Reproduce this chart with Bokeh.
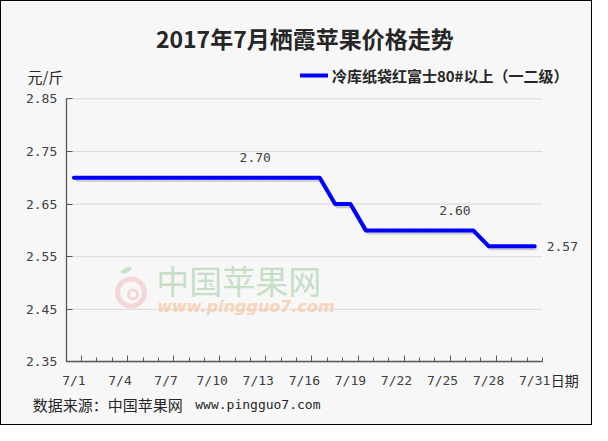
import math
from bokeh.plotting import figure
from bokeh.models import (ColumnDataSource, FixedTicker, Range1d, Label, Legend,
                          LegendItem, PrintfTickFormatter, LinearAxis)
from bokeh.embed import file_html
from bokeh.resources import INLINE
from bokeh.core.properties import value
from bokeh.transform import dodge

# ---------------- data ----------------
title_text = "2017年7月栖霞苹果价格走势"
series_name = "冷库纸袋红富士80#以上（一二级）"
unit_text = "元/斤"
x_axis_name = "日期"
source_text = "数据来源：中国苹果网"
source_url = "www.pingguo7.com"
watermark_name = "中国苹果网"

dates = ["7/1", "7/2", "7/3", "7/4", "7/5", "7/6", "7/7", "7/8", "7/9", "7/10",
         "7/11", "7/12", "7/13", "7/14", "7/15", "7/16", "7/17", "7/18", "7/19", "7/20",
         "7/21", "7/22", "7/23", "7/24", "7/25", "7/26", "7/27", "7/28", "7/29", "7/30",
         "7/31"]
prices = [2.70, 2.70, 2.70, 2.70, 2.70, 2.70, 2.70, 2.70, 2.70, 2.70,
          2.70, 2.70, 2.70, 2.70, 2.70, 2.70, 2.70, 2.65, 2.65, 2.60,
          2.60, 2.60, 2.60, 2.60, 2.60, 2.60, 2.60, 2.57, 2.57, 2.57,
          2.57]
y_ticks = [2.35, 2.45, 2.55, 2.65, 2.75, 2.85]
x_tick_labels = ["7/1", "7/4", "7/7", "7/10", "7/13", "7/16", "7/19", "7/22", "7/25", "7/28", "7/31"]
annot_dates = ["7/13", "7/26", "7/31"]

# ---------------- layout (reference-picture pixels, scaled into the figure) ----------------
W, H = 592, 425
RW, RH = 608, 441
fx, fy = W / RW, H / RH


def sx(X):  # reference x -> screen x from frame left
    return X * fx


def sy(Y):  # reference y -> screen y from frame bottom
    return H - Y * fy


PL, PR, PT, PB = 66.5 * fx, 555.5 * fx, 101.0 * fy, 374.0 * fy   # plot-area box (canvas px)

# ---------------- derived ----------------
day = [int(d.split("/")[1]) for d in dates]
x_lo, x_hi = day[0] - 0.5, day[-1] + 0.5
y_lo, y_hi = y_ticks[0], y_ticks[-1]
ppx = (PR - PL) / (x_hi - x_lo)
ppy = (PB - PT) / (y_hi - y_lo)
x_range = Range1d(x_lo - PL / ppx, x_hi + (W - PR) / ppx)
y_range = Range1d(y_lo - (H - PB) / ppy, y_hi + PT / ppy)


def dx(X):  # reference x -> data x (for decoration only)
    return x_range.start + sx(X) / ppx


def dy(Y):
    return y_range.start + sy(Y) / ppy


src = ColumnDataSource(dict(x=day, y=prices))
grid_src = ColumnDataSource(dict(y=y_ticks, x0=[x_lo] * len(y_ticks), x1=[x_hi] * len(y_ticks)))

ann_x = [day[dates.index(d)] for d in annot_dates]
ann_y = [prices[dates.index(d)] for d in annot_dates]
ann_t = ["%.2f" % v for v in ann_y]
ann_src = ColumnDataSource(dict(x=ann_x, y=ann_y, t=ann_t,
                                xo=[-3, -3, 12], yo=[-20, -20, 0],
                                al=["center", "center", "left"]))

BG = "#f7f7f7"
AX = "#595959"
p = figure(width=W, height=H, output_backend="svg", toolbar_location=None,
           x_range=x_range, y_range=y_range,
           min_border=0, min_border_left=0, min_border_right=0, min_border_top=0, min_border_bottom=0,
           background_fill_color=BG, border_fill_color=BG, outline_line_color=None)
p.styles = {"border": "1px solid #000000"}

# axes (placed at the plot-area edges)
xa = p.xaxis[0]
xa.fixed_location = y_lo
xa.bounds = (x_lo, x_hi)
label_days = [int(t.split("/")[1]) for t in x_tick_labels]
xa.ticker = FixedTicker(ticks=label_days, minor_ticks=[d - 0.5 for d in day] + [x_hi])
xa.major_label_overrides = {d: t for d, t in zip(label_days, x_tick_labels)}
xa.major_tick_in = 0
xa.major_tick_out = 0
xa.minor_tick_in = 4
xa.minor_tick_out = 0
xa.minor_tick_line_color = AX
xa.axis_line_color = AX
xa.axis_line_width = 1.3
xa.major_label_text_font = "DejaVu Sans Mono"
xa.major_label_text_font_size = "13px"
xa.major_label_text_color = "#404040"
xa.major_label_standoff = 11

# longer tick marks every third day boundary
xb = LinearAxis(fixed_location=y_lo, bounds=(x_lo, x_hi),
                ticker=FixedTicker(ticks=[d + 0.5 for d in label_days[:-1]], minor_ticks=[]),
                major_tick_in=6, major_tick_out=0, major_tick_line_color=AX,
                axis_line_color=None, minor_tick_line_color=None,
                major_label_text_alpha=0, major_label_text_font_size="1px")
p.add_layout(xb, "below")

ya = p.yaxis[0]
ya.fixed_location = x_lo
ya.bounds = (y_lo, y_hi)
ya.ticker = FixedTicker(ticks=y_ticks, minor_ticks=[])
ya.formatter = PrintfTickFormatter(format="%.2f")
ya.major_tick_in = 6
ya.major_tick_out = 0
ya.major_tick_line_color = AX
ya.axis_line_color = AX
ya.axis_line_width = 1.3
ya.major_label_text_font = "DejaVu Sans Mono"
ya.major_label_text_font_size = "13px"
ya.major_label_text_color = "#404040"
ya.major_label_standoff = 9

p.xgrid.visible = False
p.ygrid.visible = False
p.segment(x0="x0", x1="x1", y0="y", y1="y", source=grid_src, line_color="#d9d9d9", line_width=1)

# watermark (apple logo + site name)
p.annulus(x=[dx(133)], y=[dy(302)], inner_radius=11, outer_radius=16,
          inner_radius_units="screen", outer_radius_units="screen",
          fill_color="#eeb0b0", fill_alpha=0.45, line_color=None)
p.annulus(x=[dx(135)], y=[dy(304)], inner_radius=3, outer_radius=6,
          inner_radius_units="screen", outer_radius_units="screen",
          fill_color="#eeb0b0", fill_alpha=0.45, line_color=None)
p.ellipse(x=[dx(128)], y=[dy(279)], width=12, height=5, angle=0.45,
          width_units="screen", height_units="screen",
          fill_color="#9ccc9c", fill_alpha=0.5, line_color=None)
p.add_layout(Label(x=sx(159), y=sy(289), x_units="screen", y_units="screen", text=watermark_name,
                   text_font="Noto Sans CJK SC", text_font_size="33px", text_color="#b8d8b8",
                   text_alpha=0.8, text_baseline="middle", text_align="left"))
p.add_layout(Label(x=sx(160), y=sy(316), x_units="screen", y_units="screen", text=source_url,
                   text_font="DejaVu Sans", text_font_style="bold italic", text_font_size="16px",
                   text_color="#f7c9a9", text_alpha=0.8, text_baseline="middle", text_align="left"))

# line with shadow and point marks
p.line(x=dodge("x", 0.12, range=p.x_range), y=dodge("y", -0.004, range=p.y_range), source=src,
       line_color="#000000", line_alpha=0.18, line_width=4)
r = p.line("x", "y", source=src, line_color="#0000ff", line_width=4, line_cap="round", line_join="round")
p.scatter("x", "y", source=src, marker="dash", angle=math.pi / 2, size=3,
          line_color="#0000c0", line_alpha=0.7, line_width=1)

# value labels
p.text("x", "y", text="t", source=ann_src, x_offset="xo", y_offset="yo", text_align="al",
       text_baseline="middle", text_font=value("DejaVu Sans Mono"), text_font_size="13px",
       text_color="#404040")

# legend
leg = Legend(items=[LegendItem(label=series_name, renderers=[r])], location=(sx(307), sy(88)),
             orientation="horizontal", background_fill_alpha=0, border_line_color=None,
             label_text_font="Noto Sans CJK SC", label_text_font_style="bold",
             label_text_font_size="15px", label_text_color="#262626",
             glyph_width=28, glyph_height=16, label_standoff=4, padding=0, margin=0)
p.add_layout(leg)

# texts
p.add_layout(Label(x=sx(311.5), y=sy(38), x_units="screen", y_units="screen", text=title_text,
                   text_font="Noto Sans CJK SC", text_font_style="bold", text_font_size="23px",
                   text_color="#262626", text_align="center", text_baseline="middle"))
p.add_layout(Label(x=sx(45), y=sy(78), x_units="screen", y_units="screen", text=unit_text,
                   text_font="Noto Sans CJK SC", text_font_size="15px",
                   text_color="#262626", text_align="center", text_baseline="middle"))
p.add_layout(Label(x=sx(564), y=sy(393), x_units="screen", y_units="screen", text=x_axis_name,
                   text_font="Noto Sans CJK SC", text_font_size="14px",
                   text_color="#262626", text_align="left", text_baseline="middle"))
p.add_layout(Label(x=sx(32), y=sy(418), x_units="screen", y_units="screen", text=source_text,
                   text_font="Noto Sans CJK SC", text_font_size="15px",
                   text_color="#262626", text_align="left", text_baseline="middle"))
p.add_layout(Label(x=sx(199), y=sy(418), x_units="screen", y_units="screen", text=source_url,
                   text_font="DejaVu Sans Mono", text_font_size="13px",
                   text_color="#262626", text_align="left", text_baseline="middle"))

open("out.html", "w").write(file_html(p, INLINE))
